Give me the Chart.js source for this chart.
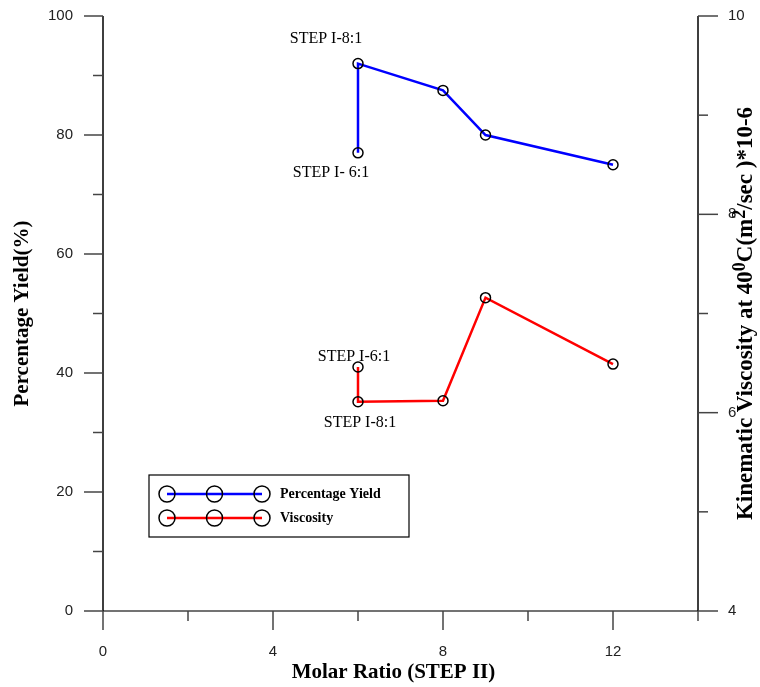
<!DOCTYPE html>
<html>
<head>
<meta charset="utf-8">
<script src="https://cdn.jsdelivr.net/npm/chart.js@4"></script>
<style>
  html, body { margin: 0; padding: 0; background: #fff; }
  #wrap { width: 760px; height: 687px; }
</style>
</head>
<body>
<div id="wrap"><canvas id="molar"></canvas></div>
<script>
// data
var xYield = [6, 6, 8, 9, 12];
var yieldVals = [77, 92, 87.5, 80, 75];
var xVisc = [6, 6, 8, 9, 12];
var viscVals = [6.46, 6.11, 6.12, 7.16, 6.49];
var xTickLabels = [0, 4, 8, 12];
var yTickLabels = [0, 20, 40, 60, 80, 100];
var y2TickLabels = [4, 6, 8, 10];

// text notes next to the first two points of each series
var notes = [
  { text: 'STEP I-8:1', ds: 0, i: 1, dx: -32, dy: -25 },
  { text: 'STEP I- 6:1', ds: 0, i: 0, dx: -27, dy: 20 },
  { text: 'STEP I-6:1', ds: 1, i: 0, dx: -4, dy: -10 },
  { text: 'STEP I-8:1', ds: 1, i: 1, dx: 2, dy: 21 }
];

function pts(xs, ys) {
  return xs.map(function (x, i) { return { x: x, y: ys[i] }; });
}

var serif = '"Liberation Serif", "Times New Roman", serif';
var sans = '"Liberation Sans", Arial, sans-serif';

var axesPlugin = {
  id: 'axesPlugin',
  afterDraw: function (chart) {
    var c = chart.ctx, a = chart.chartArea;
    var sx = chart.scales.x, sy = chart.scales.y, sy2 = chart.scales.y2;
    c.save();
    c.lineWidth = 1.5;

    // x axis line
    c.strokeStyle = '#444';
    c.beginPath();
    c.moveTo(a.left, a.bottom); c.lineTo(a.right, a.bottom);
    c.stroke();

    // vertical axis lines
    c.strokeStyle = '#000';
    c.beginPath();
    c.moveTo(a.left, a.top); c.lineTo(a.left, a.bottom);
    c.moveTo(a.right, a.top); c.lineTo(a.right, a.bottom);
    c.stroke();

    c.strokeStyle = '#444';
    c.fillStyle = '#222';
    c.font = '15px ' + sans;

    // x ticks
    c.textAlign = 'center'; c.textBaseline = 'middle';
    sx.ticks.forEach(function (t) {
      var px = sx.getPixelForValue(t.value);
      var major = xTickLabels.indexOf(t.value) >= 0;
      c.beginPath();
      c.moveTo(px, a.bottom); c.lineTo(px, a.bottom + (major ? 19 : 10));
      c.stroke();
      if (major) c.fillText(String(t.value), px, a.bottom + 41);
    });

    // left y ticks
    c.textAlign = 'right';
    sy.ticks.forEach(function (t) {
      var py = sy.getPixelForValue(t.value);
      var major = yTickLabels.indexOf(t.value) >= 0;
      c.beginPath();
      c.moveTo(a.left, py); c.lineTo(a.left - (major ? 19 : 10), py);
      c.stroke();
      if (major) c.fillText(String(t.value), a.left - 30, py);
    });

    // right y ticks
    c.textAlign = 'left';
    sy2.ticks.forEach(function (t) {
      var py = sy2.getPixelForValue(t.value);
      var major = y2TickLabels.indexOf(t.value) >= 0;
      c.beginPath();
      c.moveTo(a.right, py); c.lineTo(a.right + (major ? 20 : 10), py);
      c.stroke();
      if (major) c.fillText(String(t.value), a.right + 30, py);
    });

    // axis titles
    c.fillStyle = '#000';
    c.textAlign = 'center'; c.textBaseline = 'middle';
    c.font = 'bold 21px ' + serif;
    c.fillText('Molar Ratio (STEP II)', (a.left + a.right) / 2 - 7, a.bottom + 62);

    c.save();
    c.translate(23, (a.top + a.bottom) / 2);
    c.rotate(-Math.PI / 2);
    c.fillText('Percentage Yield(%)', 0, 0);
    c.restore();

    // right title with superscripts
    var parts = [
      ['Kinematic Viscosity at 40', 0], ['0', 1], ['C(m', 0], ['2', 1], ['/sec )*10-6', 0]
    ];
    var big = 'bold 23px ' + serif, small = 'bold 18px ' + serif;
    var total = 0;
    parts.forEach(function (p) { c.font = p[1] ? small : big; total += c.measureText(p[0]).width; });
    c.save();
    c.translate(745, (a.top + a.bottom) / 2);
    c.rotate(-Math.PI / 2);
    c.textAlign = 'left'; c.textBaseline = 'alphabetic';
    var x0 = -total / 2;
    parts.forEach(function (p) {
      c.font = p[1] ? small : big;
      c.fillText(p[0], x0, p[1] ? 0 : 7);
      x0 += c.measureText(p[0]).width;
    });
    c.restore();

    // point notes
    c.font = '16px ' + serif;
    c.textAlign = 'center'; c.textBaseline = 'middle';
    notes.forEach(function (n) {
      var el = chart.getDatasetMeta(n.ds).data[n.i];
      c.fillText(n.text, el.x + n.dx, el.y + n.dy);
    });

    // legend box
    var bx = a.left + 46, by = a.top + 459, bw = 260, bh = 62;
    c.strokeStyle = '#000';
    c.lineWidth = 1.2;
    c.strokeRect(bx, by, bw, bh);
    c.font = 'bold 14px ' + serif;
    c.textAlign = 'left';
    chart.data.datasets.forEach(function (ds, k) {
      var ly = by + 19 + k * 24;
      c.strokeStyle = ds.borderColor;
      c.lineWidth = 2.5;
      c.beginPath(); c.moveTo(bx + 18, ly); c.lineTo(bx + 113, ly); c.stroke();
      c.strokeStyle = '#000';
      c.lineWidth = 1.5;
      [18, 65.5, 113].forEach(function (ox) {
        c.beginPath(); c.arc(bx + ox, ly, 8, 0, Math.PI * 2); c.stroke();
      });
      c.fillStyle = '#000';
      c.fillText(ds.label, bx + 131, ly);
    });

    c.restore();
  }
};

var ctx = document.getElementById('molar').getContext('2d');
var myChart = new Chart(ctx, {
  type: 'scatter',
  data: {
    datasets: [{
      label: 'Percentage Yield',
      data: pts(xYield, yieldVals),
      showLine: true,
      borderColor: '#0000ff',
      borderWidth: 2.5,
      pointRadius: 5,
      pointBorderColor: '#000',
      pointBackgroundColor: 'rgba(0,0,0,0)',
      pointBorderWidth: 1.5,
      yAxisID: 'y'
    }, {
      label: 'Viscosity',
      data: pts(xVisc, viscVals),
      showLine: true,
      borderColor: '#ff0000',
      borderWidth: 2.5,
      pointRadius: 5,
      pointBorderColor: '#000',
      pointBackgroundColor: 'rgba(0,0,0,0)',
      pointBorderWidth: 1.5,
      yAxisID: 'y2'
    }]
  },
  options: {
    responsive: true,
    maintainAspectRatio: false,
    animation: false,
    events: [],
    layout: { padding: { top: 16, left: 0, right: 0, bottom: 0 } },
    plugins: {
      legend: { display: false },
      tooltip: { enabled: false }
    },
    scales: {
      x: {
        type: 'linear',
        min: 0, max: 14,
        ticks: { stepSize: 2, display: false },
        grid: { display: false },
        border: { display: false },
        afterFit: function (s) { s.height = 76; }
      },
      y: {
        position: 'left',
        min: 0, max: 100,
        ticks: { stepSize: 10, display: false },
        grid: { display: false },
        border: { display: false },
        afterFit: function (s) { s.width = 103; }
      },
      y2: {
        position: 'right',
        min: 4, max: 10,
        ticks: { stepSize: 1, display: false },
        grid: { display: false },
        border: { display: false },
        afterFit: function (s) { s.width = 62; }
      }
    }
  },
  plugins: [axesPlugin]
});
</script>
</body>
</html>
